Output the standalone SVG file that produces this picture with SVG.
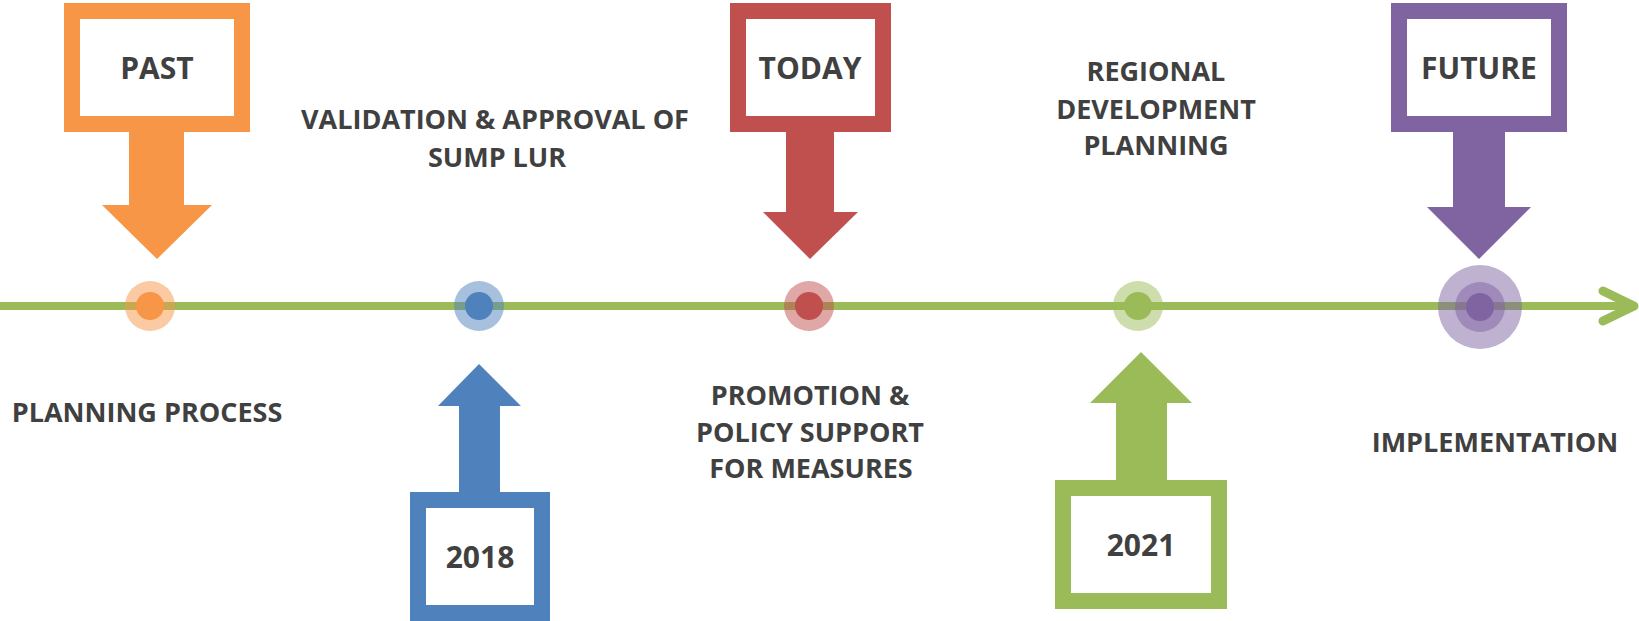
<svg xmlns="http://www.w3.org/2000/svg" width="1639" height="621" viewBox="0 0 1639 621">
<style>
.lbl{font-family:"Open Sans","Liberation Sans",sans-serif;font-weight:bold;fill:#404040;text-anchor:middle;font-size:27px}
.box{font-size:30px}
.frame{fill:#fff;stroke-width:16}
.halo{fill-opacity:0.5}
</style>
<g id="connectors">
<line x1="0" y1="306" x2="1632" y2="306" stroke="#9BBB59" stroke-width="8"/>
<polyline points="1603,291 1634,306 1603,321" fill="none" stroke="#9BBB59" stroke-width="9" stroke-linecap="round" stroke-linejoin="round"/>
</g>
<g id="node-past">
<rect class="frame" x="72" y="11" width="170" height="113" style="stroke:#F79646"/>
<text class="lbl box" x="157" y="79">PAST</text>
<polygon points="129,131 184,131 184,205 212,205 157,259 102,205 129,205" fill="#F79646"/>
<circle class="halo" cx="150" cy="306" r="25" fill="#F79646"/>
<circle cx="150" cy="306" r="14" fill="#F79646"/>
<text class="lbl" x="147" y="422">PLANNING PROCESS</text>
</g>
<g id="node-2018">
<rect class="frame" x="418" y="500" width="124" height="113" style="stroke:#4F81BD"/>
<text class="lbl box" x="480" y="568">2018</text>
<polygon points="459,492 500,492 500,406 521,406 479,364 438,406 459,406" fill="#4F81BD"/>
<circle class="halo" cx="479" cy="306" r="25" fill="#4F81BD"/>
<circle cx="479" cy="306" r="14" fill="#4F81BD"/>
<text class="lbl" x="495" y="129">VALIDATION &amp; APPROVAL OF</text>
<text class="lbl" x="497" y="167">SUMP LUR</text>
</g>
<g id="node-today">
<rect class="frame" x="738" y="11" width="145" height="113" style="stroke:#C0504D"/>
<text class="lbl box" x="810" y="79">TODAY</text>
<polygon points="786,131 834,131 834,212 858,212 810,259 763,212 786,212" fill="#C0504D"/>
<circle class="halo" cx="809" cy="306" r="25" fill="#C0504D"/>
<circle cx="809" cy="306" r="14" fill="#C0504D"/>
<text class="lbl" x="810" y="405">PROMOTION &amp;</text>
<text class="lbl" x="810" y="441.5">POLICY SUPPORT</text>
<text class="lbl" x="811" y="477.5">FOR MEASURES</text>
</g>
<g id="node-2021">
<rect class="frame" x="1063" y="488" width="156" height="113" style="stroke:#9BBB59"/>
<text class="lbl box" x="1141" y="556">2021</text>
<polygon points="1116,480 1167,480 1167,403 1192,403 1141,352 1090,403 1116,403" fill="#9BBB59"/>
<circle class="halo" cx="1138" cy="306" r="25" fill="#9BBB59"/>
<circle cx="1138" cy="306" r="14" fill="#9BBB59"/>
<text class="lbl" x="1156" y="81">REGIONAL</text>
<text class="lbl" x="1156" y="119">DEVELOPMENT</text>
<text class="lbl" x="1156" y="155">PLANNING</text>
</g>
<g id="node-future">
<rect class="frame" x="1399" y="11" width="160" height="113" style="stroke:#8064A2"/>
<text class="lbl box" x="1479" y="79">FUTURE</text>
<polygon points="1453,131 1505,131 1505,207 1531,207 1479,259 1427,207 1453,207" fill="#8064A2"/>
<circle class="halo" cx="1480" cy="307" r="42" fill="#8064A2"/>
<circle class="halo" cx="1480" cy="307" r="25" fill="#8064A2"/>
<circle cx="1480" cy="307" r="14" fill="#8064A2"/>
<text class="lbl" x="1495" y="452">IMPLEMENTATION</text>
</g>
</svg>
